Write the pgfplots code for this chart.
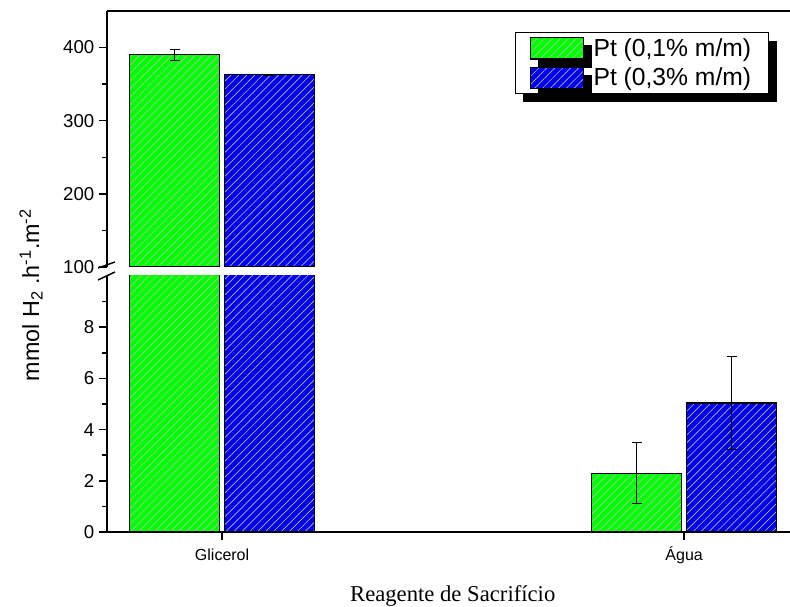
\documentclass[border=0pt]{standalone}
\usepackage{fontspec}
\setmainfont{Liberation Sans}
\newfontfamily\timesfont{Liberation Serif}
\usepackage{pgfplots}
\pgfplotsset{compat=1.18}
\usepackage{pgfplotstable}
\usetikzlibrary{patterns.meta,shadows}

\definecolor{barGreen}{RGB}{0,255,0}
\definecolor{barBlue}{RGB}{0,0,235}
\definecolor{hatch}{RGB}{185,185,185}

% H2 production rate (mmol h^-1 m^-2) and its deviation; 0 = Glicerol, 1 = Agua
\pgfplotstableread{
pos rate err
0 390  8
1 2.3  1.18
}\ptlow
\pgfplotstableread{
pos rate err
0 363  0.8
1 5.04 1.83
}\pthigh

\pgfplotsset{
  panel/.style={
    width=512.25pt, height=192pt, scale only axis,
    xmin=-0.249, xmax=1.229,
    axis y line*=left,
    axis line style={-, line width=1.2pt, black},
    tick align=outside,
    major tick length=6pt, minor tick length=3.75pt,
    every tick/.style={line width=1.1pt, black},
    ybar, bar width=0.195,
    xtick={0,1},
    /pgf/number format/assume math mode=true,
    yticklabel style={font=\fontsize{14}{16}\selectfont},
    clip=true,
  },
  errstyle/.style={
    error bars/.cd, y dir=both, y explicit,
    error bar style={line width=0.7pt, black, solid},
    error mark options={rotate=90, mark size=3.75pt, line width=0.7pt, black},
  },
  barlegend/.style={
    legend image code/.code={\draw[##1] (0pt,-7.9pt) rectangle (39.75pt,7.9pt);},
  },
  greenbar/.style={draw=black, line width=0.8pt, bar shift=-0.1025,
    preaction={fill=barGreen},
    pattern={Lines[angle=45,distance=4.2pt,line width=0.5pt]}, pattern color=hatch,
    barlegend, errstyle},
  bluebar/.style={draw=black, line width=0.8pt, bar shift=0.1025,
    preaction={fill=barBlue},
    pattern={Lines[angle=45,distance=4.2pt,line width=0.5pt]}, pattern color=hatch,
    barlegend, errstyle},
}

\begin{document}
\begin{tikzpicture}
\useasboundingbox (-80.25pt,-56.25pt) rectangle (512.25pt,399pt);

% lower panel: 0 to 10
\begin{axis}[panel,
  at={(0,0)}, anchor=south west,
  axis x line*=bottom,
  ymin=0, ymax=10,
  ytick={0,2,4,6,8}, minor ytick={1,3,5,7,9},
  xticklabels={Glicerol, Água},
  xticklabel style={font=\fontsize{12}{14}\selectfont, text height=9pt, text depth=3pt, yshift=-2.5pt},
]
\addplot[greenbar] table[x=pos, y=rate, y error=err] {\ptlow};
\addplot[bluebar]  table[x=pos, y=rate, y error=err] {\pthigh};
\end{axis}

% upper panel: 100 to 450 (only Glicerol reaches it)
\begin{axis}[panel,
  at={(0,198.75pt)}, anchor=south west,
  axis x line*=top,
  ymin=100, ymax=450,
  ytick={100,200,300,400}, minor ytick={150,250,350},
  xtick=\empty,
  restrict x to domain=-0.5:0.5,
  legend style={at={(0.9693,0.918)}, anchor=north east, draw=black, line width=0.8pt,
    fill=white, font=\fontsize{18.5}{20}\selectfont, inner xsep=11pt, inner ysep=2.5pt,
    row sep=3pt, column sep=5pt, cells={anchor=west},
    general shadow={shadow xshift=6pt, shadow yshift=-6pt, fill=black}},
  legend cell align=left,
]
\addplot[greenbar] table[x=pos, y=rate, y error=err] {\ptlow};
\addlegendentry{Pt (0,1\% m/m)}
\addplot[bluebar]  table[x=pos, y=rate, y error=err] {\pthigh};
\addlegendentry{Pt (0,3\% m/m)}
\end{axis}

% axis break marks
\draw[line width=1.1pt] (-6.75pt,198pt) -- (6pt,202.5pt);
\draw[line width=1.1pt] (-6.75pt,189pt) -- (6pt,195pt);

\node[rotate=90, font=\fontsize{17.5}{19}\selectfont] at (-57pt,177.75pt)
  {mmol H\textsubscript{2} .h\textsuperscript{-1}.m\textsuperscript{-2}};
\node[font=\timesfont\fontsize{17}{20}\selectfont, anchor=base] at (259.3pt,-52.3pt)
  {Reagente de Sacrifício};
\end{tikzpicture}
\end{document}
